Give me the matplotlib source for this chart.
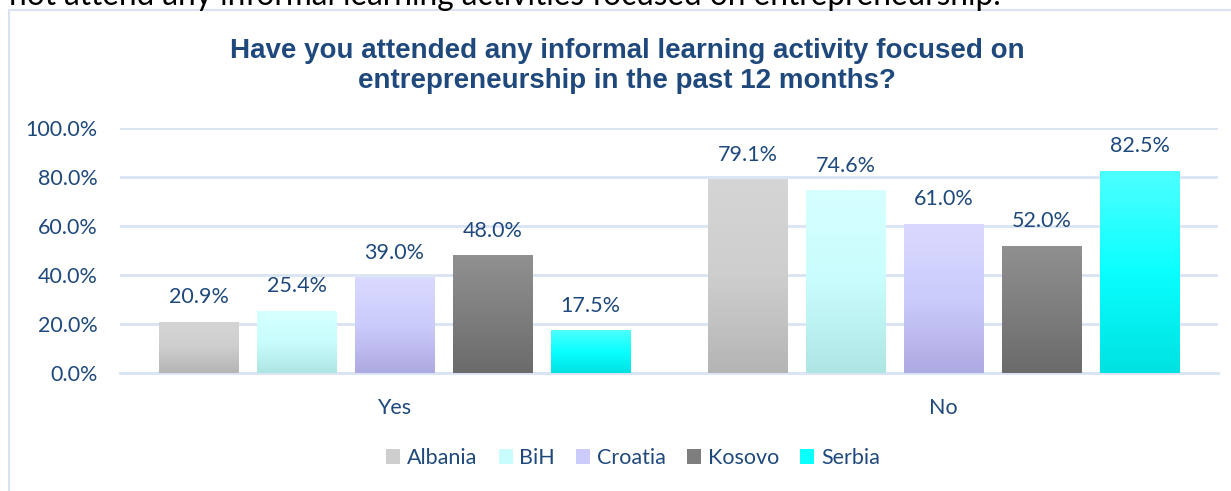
import numpy as np
import matplotlib.pyplot as plt
from matplotlib.patches import Patch, Rectangle
from matplotlib.colors import LinearSegmentedColormap

plt.rcParams['font.family'] = ['Lato', 'DejaVu Sans']

categories = ["Yes", "No"]
countries = ["Albania", "BiH", "Croatia", "Kosovo", "Serbia"]
values = {
    "Albania": [20.9, 79.1],
    "BiH": [25.4, 74.6],
    "Croatia": [39.0, 61.0],
    "Kosovo": [48.0, 52.0],
    "Serbia": [17.5, 82.5],
}
# top, middle, bottom colours of each bar's vertical gradient
gradients = {
    "Albania": ["#d5d5d5", "#cecece", "#b5b5b5"],
    "BiH": ["#d6ffff", "#c9fdfd", "#aee6e4"],
    "Croatia": ["#dadaff", "#cbcbfc", "#aeaae2"],
    "Kosovo": ["#909090", "#7e7e7e", "#6b6b6b"],
    "Serbia": ["#4cffff", "#0affff", "#00e2e2"],
}

TXT = "#1f497d"
GRID = "#d9e3f2"
FS = 15.5

fig = plt.figure(figsize=(12.31, 4.91), dpi=100)

# chart frame
fig.patches.append(Rectangle((9 / 1231, -0.05), 1.2, 1 - 10 / 491 + 0.05,
                             transform=fig.transFigure, fill=False,
                             edgecolor=GRID, linewidth=1.5, zorder=0))

# cut-off sentence from the surrounding document
fig.text(9 / 1231, 1 - 5 / 491, "not attend any informal learning activities focused on entrepreneurship.",
         fontsize=22.7, color="black", ha="left", va="baseline")

ax = fig.add_axes([120 / 1231, 1 - 373 / 491, (1218 - 120) / 1231, (373 - 128) / 491])

x = np.arange(len(categories))
width = 80 / 549
step = 98 / 549

for i, c in enumerate(countries):
    xs = x + (i - 2) * step
    bars = ax.bar(xs, np.array(values[c]) / 100, width=width, color="none",
                  edgecolor="none", zorder=3)
    cmap = LinearSegmentedColormap.from_list(c, gradients[c][::-1])
    grad = np.linspace(0, 1, 64).reshape(-1, 1)
    for b, v in zip(bars, values[c]):
        im = ax.imshow(grad, cmap=cmap, origin="lower", aspect="auto",
                       extent=[b.get_x(), b.get_x() + b.get_width(), 0, b.get_height()],
                       zorder=3)
        im.set_clip_path(b)
        ax.text(b.get_x() + b.get_width() / 2, v / 100 + 0.1, f"{v:.1f}%",
                ha="center", va="center", fontsize=FS, color=TXT)

ax.set_xlim(-0.5, 1.5)
ax.set_ylim(0, 1.0)
ax.set_yticks(np.arange(0, 1.01, 0.2))
ax.set_yticklabels([f"{t * 100:.1f}%" for t in np.arange(0, 1.01, 0.2)])
ax.set_xticks(x)
ax.set_xticklabels(categories)
ax.tick_params(axis="both", length=0, labelsize=FS, labelcolor=TXT)
ax.tick_params(axis="y", pad=16)
ax.tick_params(axis="x", pad=18)
ax.grid(axis="y", color=GRID, linewidth=2, zorder=0)
for s in ["top", "right", "left"]:
    ax.spines[s].set_visible(False)
ax.spines["bottom"].set_color(GRID)
ax.spines["bottom"].set_linewidth(2)

fig.text(627 / 1231, 1 - 51 / 491, "Have you attended any informal learning activity focused on",
         ha="center", va="center", fontsize=20, fontweight="bold", color=TXT,
         family=["Liberation Sans", "DejaVu Sans"])
fig.text(627 / 1231, 1 - 81 / 491, "entrepreneurship in the past 12 months?",
         ha="center", va="center", fontsize=20, fontweight="bold", color=TXT,
         family=["Liberation Sans", "DejaVu Sans"])

handles = [Patch(facecolor=gradients[c][1], edgecolor="none") for c in countries]
fig.legend(handles, countries, loc="center", bbox_to_anchor=(633 / 1231, 1 - 458 / 491),
           ncol=5, frameon=False, fontsize=FS, labelcolor=TXT,
           handlelength=0.65, handleheight=0.65, handletextpad=0.3, columnspacing=1.0)

plt.savefig("out.png", dpi=100)
